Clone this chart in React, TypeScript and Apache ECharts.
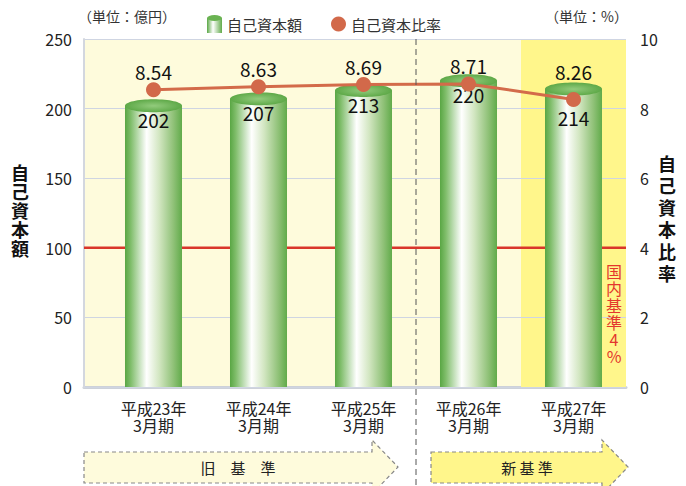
import React, { useEffect, useRef } from "react";
import * as echarts from "echarts";

const categories = ["平成23年\n3月期", "平成24年\n3月期", "平成25年\n3月期", "平成26年\n3月期", "平成27年\n3月期"];
const capital = [202, 207, 213, 220, 214];
const ratio = [8.54, 8.63, 8.69, 8.71, 8.26];
const capitalAxis = { min: 0, max: 250, interval: 50 };
const ratioAxis = { min: 0, max: 10, interval: 2 };
const threshold = 100;
const highlightIndex = 4; // 新基準 band
const oldCount = 3; // 旧基準 categories

const FONT = '"Noto Sans CJK JP", "Noto Sans", sans-serif';
const W = 686;
const H = 486;
const G0 = { left: 84, right: 60, top: 39, bottom: 99 };
const G1 = { left: 101, right: 60, top: 39, bottom: 99 };
const BAR_RATIO = 0.543;

const legendIcon =
  "image://data:image/svg+xml;charset=utf-8," +
  encodeURIComponent(
    "<svg xmlns='http://www.w3.org/2000/svg' width='15' height='18' viewBox='0 0 15 18'>" +
      "<defs><linearGradient id='g' x1='0' y1='0' x2='1' y2='0'>" +
      "<stop offset='0' stop-color='#5aa745'/><stop offset='0.4' stop-color='#ffffff'/><stop offset='1' stop-color='#62ab4b'/>" +
      "</linearGradient></defs>" +
      "<rect x='0' y='3' width='15' height='15' fill='url(#g)'/>" +
      "<ellipse cx='7.5' cy='3' rx='7.5' ry='3' fill='#6ab352'/></svg>"
  );

export default function App() {
  const ref = useRef<HTMLDivElement>(null);
  useEffect(() => {
    document.body.style.margin = "0";
    const chart = echarts.init(ref.current!, null, { renderer: "svg" });
    const plotW = W - G1.left - G1.right;
    const band = plotW / categories.length;
    const dividerX = G1.left + band * oldCount;

    const bodyGrad = {
      type: "linear", x: 0, y: 0, x2: 1, y2: 0,
      colorStops: [
        { offset: 0, color: "#59a644" },
        { offset: 0.1, color: "#7fbd6a" },
        { offset: 0.38, color: "#ffffff" },
        { offset: 0.6, color: "#d2e6c1" },
        { offset: 0.85, color: "#8fc177" },
        { offset: 1, color: "#61ab4a" },
      ],
    };
    const topGrad = {
      type: "radial", x: 0.5, y: 0.5, r: 0.5,
      colorStops: [
        { offset: 0, color: "#92cb7c" },
        { offset: 1, color: "#5ea948" },
      ],
    };

    const option: any = {
      animation: false,
      textStyle: { fontFamily: FONT },
      grid: [
        { ...G0, show: true, backgroundColor: "#fefbdc", borderWidth: 0 },
        { ...G1, show: false },
      ],
      legend: {
        left: 202,
        top: 10,
        itemWidth: 15,
        itemHeight: 18,
        itemGap: 29,
        textStyle: { fontSize: 15, color: "#333", fontFamily: FONT },
        data: [
          { name: "自己資本額", icon: legendIcon },
          { name: "自己資本比率", icon: "circle" },
        ],
      },
      xAxis: [
        {
          gridIndex: 0, type: "value", min: 0, max: 1,
          axisLine: { show: true, lineStyle: { color: "#cdd1d9", width: 3 } },
          axisTick: { show: false }, axisLabel: { show: false }, splitLine: { show: false },
        },
        {
          gridIndex: 1, type: "category", data: categories,
          axisLine: { show: false }, axisTick: { show: false },
          axisLabel: { fontSize: 16, color: "#222", lineHeight: 17, margin: 12, fontFamily: FONT },
        },
      ],
      yAxis: [
        {
          gridIndex: 0, type: "value", ...capitalAxis, position: "left", z: 2,
          axisLine: { show: true, lineStyle: { color: "#d3d7df", width: 2 } },
          axisTick: { show: false },
          axisLabel: { fontSize: 16, color: "#222", margin: 12, fontFamily: FONT },
          splitLine: { show: true, lineStyle: { color: "#cfd5e2", width: 1.2 } },
        },
        {
          gridIndex: 0, type: "value", ...ratioAxis, position: "right",
          axisLine: { show: false }, axisTick: { show: false },
          axisLabel: { fontSize: 16, color: "#222", margin: 14, fontFamily: FONT },
          splitLine: { show: false },
        },
        { gridIndex: 1, type: "value", ...capitalAxis, show: false },
        { gridIndex: 1, type: "value", ...ratioAxis, show: false },
      ],
      series: [
        {
          type: "bar", xAxisIndex: 1, yAxisIndex: 2, z: 1, silent: true,
          barWidth: "100%",
          itemStyle: { color: "#fff68b" },
          data: categories.map((_, i) => (i === highlightIndex ? capitalAxis.max : null)),
        },
        {
          type: "line", xAxisIndex: 0, yAxisIndex: 0, z: 2.5, silent: true,
          showSymbol: false, symbol: "none",
          lineStyle: { color: "#d9362b", width: 2.5 },
          data: [[0, threshold], [1, threshold]],
        },
        {
          name: "自己資本額", type: "custom", xAxisIndex: 1, yAxisIndex: 2, z: 3,
          itemStyle: { color: "#6ab352" },
          data: capital.map((v, i) => [i, v]),
          renderItem: (params: any, api: any) => {
            const xi = api.value(0);
            const v = api.value(1);
            const top = api.coord([xi, v]);
            const base = api.coord([xi, 0]);
            const w = api.size([1, 0])[0] * BAR_RATIO;
            const cx = top[0];
            const shift = params.dataIndex === highlightIndex ? 28 : 14;
            return {
              type: "group",
              children: [
                { type: "rect", shape: { x: cx - w / 2, y: top[1], width: w, height: base[1] - top[1] }, style: { fill: bodyGrad } },
                { type: "ellipse", shape: { cx, cy: top[1], rx: w / 2, ry: 6.5 }, style: { fill: topGrad } },
                {
                  type: "text", x: cx, y: top[1] + shift,
                  style: { text: String(v), fill: "#111", fontSize: 19, fontFamily: FONT, align: "center", verticalAlign: "middle" },
                },
              ],
            };
          },
        },
        {
          name: "自己資本比率", type: "line", xAxisIndex: 1, yAxisIndex: 3, z: 4,
          symbol: "circle", symbolSize: 15,
          itemStyle: { color: "#d2694a" },
          lineStyle: { color: "#d36b4a", width: 3 },
          label: { show: true, position: "top", distance: 1, fontSize: 19, color: "#111", fontFamily: FONT, formatter: (p: any) => p.value.toFixed(2) },
          data: ratio.map((v, i) => (i === highlightIndex ? { value: v, label: { offset: [0, -10] } } : v)),
        },
      ],
      graphic: [
        { type: "text", left: 78, top: 9, style: { text: "（単位：億円）", fontSize: 14, fill: "#333", fontFamily: FONT } },
        { type: "text", right: 58, top: 9, style: { text: "（単位：%）", fontSize: 14, fill: "#333", fontFamily: FONT } },
        {
          type: "text", x: 20, y: 162,
          style: { text: "自\n己\n資\n本\n額", fontSize: 18, fontWeight: "bold", lineHeight: 19, fill: "#111", align: "center", fontFamily: FONT },
        },
        {
          type: "text", x: 667, y: 152,
          style: { text: "自\n己\n資\n本\n比\n率", fontSize: 18, fontWeight: "bold", lineHeight: 22, fill: "#111", align: "center", fontFamily: FONT },
        },
        {
          type: "line", z: 10,
          shape: { x1: dividerX, y1: G0.top, x2: dividerX, y2: H },
          style: { stroke: "#555", lineWidth: 1, lineDash: [6, 4] },
        },
        {
          type: "text", z: 10, x: 614, y: 262,
          style: { text: "国\n内\n基\n準\n4\n%", fontSize: 16, lineHeight: 17, fill: "#e3372d", align: "center", fontFamily: FONT },
        },
        {
          type: "polygon", z: 5,
          shape: { points: [[84, 452], [372, 452], [372, 440], [398, 467], [372, 494], [372, 483], [84, 483]] },
          style: { fill: "#fefbdc", stroke: "#888", lineWidth: 1.2, lineDash: [4, 3] },
        },
        {
          type: "polygon", z: 5,
          shape: { points: [[431, 452], [602, 452], [602, 440], [628, 467], [602, 494], [602, 483], [431, 483]] },
          style: { fill: "#fff68b", stroke: "#888", lineWidth: 1.2, lineDash: [4, 3] },
        },
        {
          type: "text", z: 6, x: 238, y: 467,
          style: { text: "旧　基　準", fontSize: 15, fill: "#222", align: "center", verticalAlign: "middle", fontFamily: FONT },
        },
        {
          type: "text", z: 6, x: 527, y: 467,
          style: { text: "新 基 準", fontSize: 15, fill: "#222", align: "center", verticalAlign: "middle", fontFamily: FONT },
        },
      ],
    };
    chart.setOption(option);
    return () => chart.dispose();
  }, []);
  return <div ref={ref} style={{ position: "absolute", left: 0, top: 0, width: W, height: H }} />;
}
